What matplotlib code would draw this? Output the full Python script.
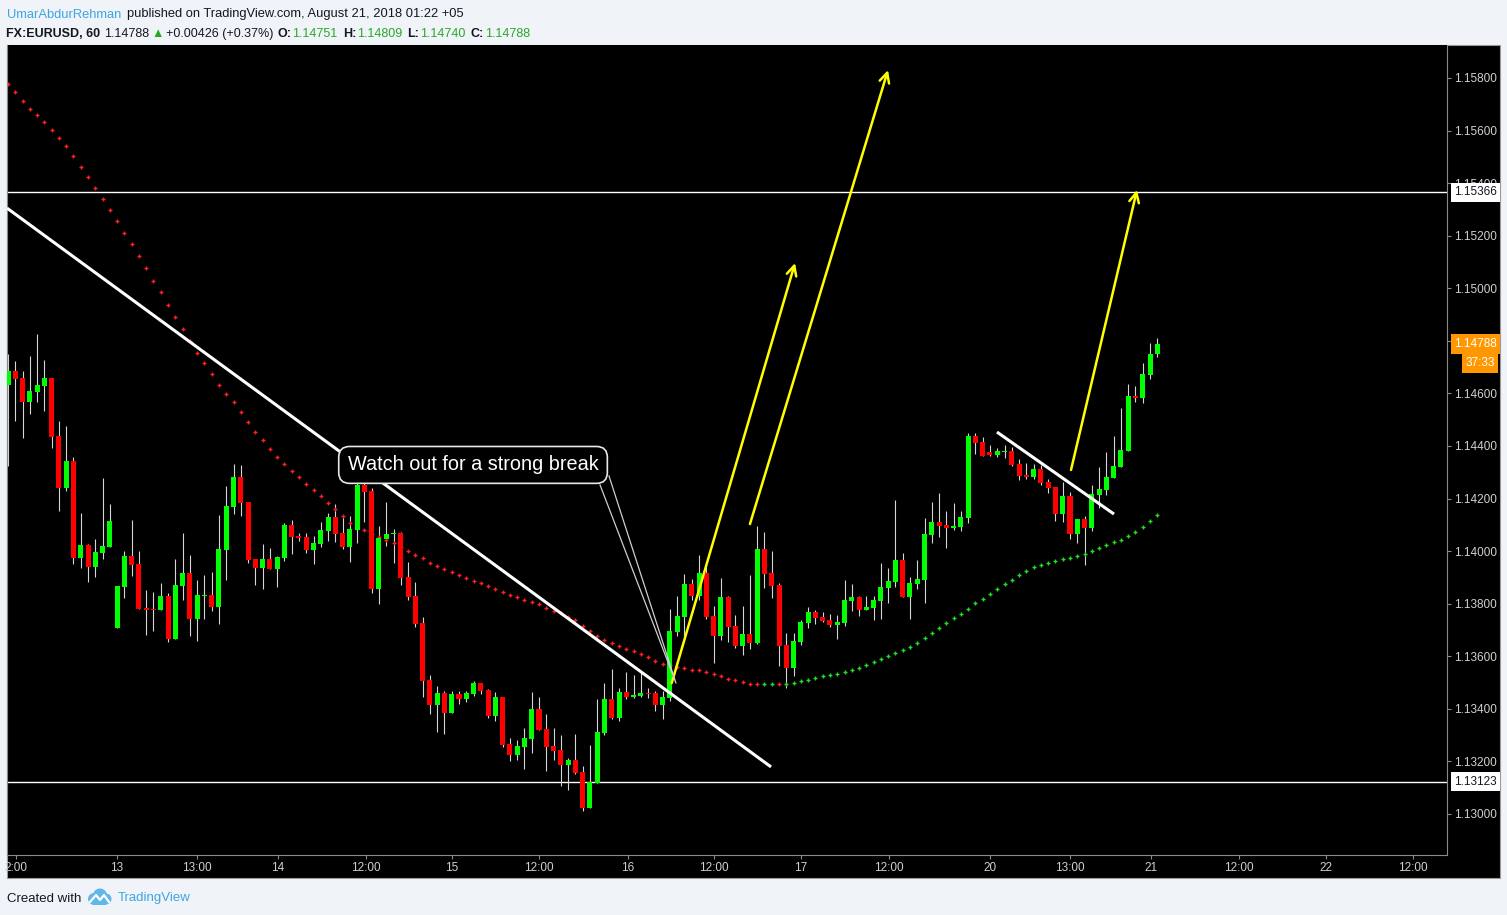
import numpy as np
import matplotlib
matplotlib.use("Agg")
import matplotlib.pyplot as plt
from matplotlib.patches import Rectangle, Circle

plt.rcParams['font.family'] = ['Liberation Sans', 'DejaVu Sans']

# ---------------- DATA ----------------
opens = [1.14632, 1.14685, 1.14659, 1.14567, 1.14605, 1.14628, 1.14659, 1.14438, 1.14240, 1.14343,
         1.13974, 1.14023, 1.13940, 1.13993, 1.14016, 1.13708, 1.13864, 1.13982, 1.13951, 1.13784,
         1.13780, 1.13776, 1.13829, 1.13666, 1.13867, 1.13917, 1.13742, 1.13829, 1.13833, 1.13788,
         1.14004, 1.14168, 1.14282, 1.14187, 1.13970, 1.13936, 1.13970, 1.13932, 1.13974, 1.14099,
         1.14058, 1.14054, 1.14004, 1.14027, 1.14077, 1.14130, 1.14069, 1.14016, 1.14080, 1.14252,
         1.14229, 1.13856, 1.14046, 1.14065, 1.14069, 1.13902, 1.13829, 1.13727, 1.13510, 1.13415,
         1.13460, 1.13384, 1.13456, 1.13437, 1.13456, 1.13498, 1.13472, 1.13373, 1.13445, 1.13266,
         1.13224, 1.13255, 1.13285, 1.13399, 1.13323, 1.13259, 1.13243, 1.13186, 1.13205, 1.13160,
         1.13023, 1.13118, 1.13308, 1.13437, 1.13365, 1.13464, 1.13445, 1.13449, 1.13460, 1.13460,
         1.13415, 1.13441, 1.13692, 1.13749, 1.13875, 1.13829, 1.13917, 1.13753, 1.13677, 1.13825,
         1.13715, 1.13639, 1.13685, 1.13651, 1.14008, 1.13917, 1.13871, 1.13643, 1.13555, 1.13654,
         1.13727, 1.13768, 1.13749, 1.13738, 1.13719, 1.13727, 1.13810, 1.13825, 1.13776, 1.13784,
         1.13810, 1.13860, 1.13883, 1.13966, 1.13825, 1.13875, 1.13890, 1.14061, 1.14111, 1.14099,
         1.14088, 1.14092, 1.14126, 1.14438, 1.14415, 1.14377, 1.14366, 1.14377, 1.14381, 1.14332,
         1.14290, 1.14282, 1.14313, 1.14263, 1.14244, 1.14141, 1.14210, 1.14065, 1.14122, 1.14088,
         1.14214, 1.14233, 1.14278, 1.14320, 1.14381, 1.14590, 1.14583, 1.14670, 1.14751]

highs = [1.14750, 1.14723, 1.14685, 1.14742, 1.14826, 1.14727, 1.14659, 1.14495, 1.14476, 1.14358,
         1.14145, 1.14027, 1.14046, 1.14278, 1.14179, 1.13867, 1.14001, 1.14119, 1.14001, 1.13852,
         1.13845, 1.13879, 1.13841, 1.13970, 1.14069, 1.13985, 1.13890, 1.13909, 1.13921, 1.14137,
         1.14248, 1.14332, 1.14328, 1.14187, 1.13970, 1.14027, 1.14012, 1.13982, 1.14107, 1.14119,
         1.14069, 1.14069, 1.14058, 1.14111, 1.14145, 1.14179, 1.14134, 1.14134, 1.14290, 1.14282,
         1.14240, 1.14096, 1.14187, 1.14084, 1.14073, 1.13959, 1.13883, 1.13749, 1.13529, 1.13487,
         1.13468, 1.13468, 1.13468, 1.13468, 1.13506, 1.13498, 1.13476, 1.13464, 1.13445, 1.13289,
         1.13281, 1.13327, 1.13464, 1.13445, 1.13380, 1.13327, 1.13300, 1.13213, 1.13304, 1.13183,
         1.13262, 1.13437, 1.13498, 1.13552, 1.13479, 1.13540, 1.13529, 1.13540, 1.13479, 1.13468,
         1.13468, 1.13780, 1.13829, 1.13913, 1.13894, 1.13985, 1.13959, 1.13791, 1.13898, 1.13829,
         1.13757, 1.13791, 1.13909, 1.14096, 1.14073, 1.14001, 1.13879, 1.13689, 1.13689, 1.13738,
         1.13788, 1.13776, 1.13768, 1.13761, 1.13757, 1.13890, 1.13875, 1.13829, 1.13829, 1.13829,
         1.13955, 1.13936, 1.14195, 1.13993, 1.13902, 1.13966, 1.14126, 1.14187, 1.14221, 1.14153,
         1.14183, 1.14153, 1.14449, 1.14449, 1.14434, 1.14404, 1.14392, 1.14404, 1.14396, 1.14350,
         1.14335, 1.14332, 1.14328, 1.14274, 1.14244, 1.14263, 1.14225, 1.14122, 1.14134, 1.14252,
         1.14320, 1.14377, 1.14438, 1.14544, 1.14636, 1.14628, 1.14716, 1.14792, 1.14809]

lows = [1.14324, 1.14495, 1.14430, 1.14522, 1.14567, 1.14533, 1.14392, 1.14153, 1.14229, 1.13951,
        1.13936, 1.13883, 1.13902, 1.13970, 1.14016, 1.13708, 1.13822, 1.13905, 1.13780, 1.13681,
        1.13696, 1.13776, 1.13654, 1.13666, 1.13814, 1.13677, 1.13658, 1.13742, 1.13772, 1.13723,
        1.13890, 1.14141, 1.14134, 1.13955, 1.13871, 1.13856, 1.13932, 1.13864, 1.13962, 1.13989,
        1.14039, 1.13993, 1.13951, 1.14016, 1.14039, 1.14035, 1.14008, 1.13959, 1.14031, 1.14111,
        1.13841, 1.13799, 1.14020, 1.13955, 1.13871, 1.13814, 1.13711, 1.13445, 1.13380, 1.13312,
        1.13304, 1.13384, 1.13418, 1.13426, 1.13449, 1.13456, 1.13365, 1.13354, 1.13255, 1.13202,
        1.13205, 1.13171, 1.13232, 1.13320, 1.13164, 1.13205, 1.13106, 1.13091, 1.13152, 1.13011,
        1.13023, 1.13118, 1.13301, 1.13361, 1.13354, 1.13437, 1.13441, 1.13445, 1.13441, 1.13392,
        1.13361, 1.13430, 1.13677, 1.13677, 1.13814, 1.13814, 1.13742, 1.13574, 1.13662, 1.13654,
        1.13632, 1.13605, 1.13628, 1.13647, 1.13860, 1.13822, 1.13563, 1.13479, 1.13525, 1.13643,
        1.13708, 1.13723, 1.13730, 1.13711, 1.13666, 1.13715, 1.13772, 1.13753, 1.13776, 1.13738,
        1.13742, 1.13803, 1.13864, 1.13825, 1.13742, 1.13856, 1.13803, 1.14031, 1.14054, 1.14012,
        1.14080, 1.14077, 1.14107, 1.14369, 1.14362, 1.14362, 1.14358, 1.14354, 1.14324, 1.14271,
        1.14274, 1.14274, 1.14252, 1.14221, 1.14115, 1.14111, 1.14046, 1.14031, 1.13947, 1.14077,
        1.14164, 1.14214, 1.14278, 1.14320, 1.14381, 1.14567, 1.14564, 1.14655, 1.14740]

closes = [1.14685, 1.14655, 1.14567, 1.14609, 1.14632, 1.14659, 1.14434, 1.14240, 1.14343, 1.13974,
          1.14023, 1.13940, 1.13997, 1.14020, 1.14115, 1.13867, 1.13982, 1.13947, 1.13780, 1.13776,
          1.13776, 1.13829, 1.13666, 1.13871, 1.13917, 1.13742, 1.13833, 1.13833, 1.13788, 1.14008,
          1.14172, 1.14282, 1.14183, 1.13966, 1.13936, 1.13970, 1.13932, 1.13978, 1.14099, 1.14054,
          1.14050, 1.14004, 1.14031, 1.14080, 1.14130, 1.14065, 1.14016, 1.14084, 1.14252, 1.14225,
          1.13856, 1.14050, 1.14065, 1.14069, 1.13898, 1.13825, 1.13723, 1.13506, 1.13415, 1.13460,
          1.13384, 1.13456, 1.13437, 1.13460, 1.13498, 1.13468, 1.13373, 1.13445, 1.13262, 1.13224,
          1.13259, 1.13289, 1.13400, 1.13320, 1.13255, 1.13240, 1.13186, 1.13205, 1.13156, 1.13023,
          1.13122, 1.13312, 1.13437, 1.13365, 1.13464, 1.13445, 1.13453, 1.13460, 1.13456, 1.13415,
          1.13445, 1.13696, 1.13753, 1.13875, 1.13829, 1.13917, 1.13749, 1.13677, 1.13825, 1.13711,
          1.13639, 1.13685, 1.13651, 1.14008, 1.13913, 1.13867, 1.13639, 1.13555, 1.13658, 1.13730,
          1.13768, 1.13746, 1.13734, 1.13719, 1.13730, 1.13814, 1.13825, 1.13776, 1.13788, 1.13814,
          1.13864, 1.13886, 1.13966, 1.13825, 1.13879, 1.13894, 1.14065, 1.14111, 1.14096, 1.14088,
          1.14096, 1.14130, 1.14438, 1.14411, 1.14362, 1.14366, 1.14381, 1.14381, 1.14328, 1.14286,
          1.14282, 1.14313, 1.14259, 1.14240, 1.14141, 1.14210, 1.14065, 1.14122, 1.14088, 1.14217,
          1.14236, 1.14282, 1.14324, 1.14385, 1.14590, 1.14583, 1.14674, 1.14751, 1.14788]

ma_values = [1.15776, 1.15746, 1.15711, 1.15681, 1.15658, 1.15631, 1.15601, 1.15571, 1.15540, 1.15502,
             1.15460, 1.15422, 1.15380, 1.15338, 1.15297, 1.15255, 1.15209, 1.15167, 1.15122, 1.15076,
             1.15026, 1.14985, 1.14935, 1.14890, 1.14844, 1.14798, 1.14753, 1.14715, 1.14673, 1.14631,
             1.14597, 1.14566, 1.14528, 1.14490, 1.14452, 1.14422, 1.14387, 1.14357, 1.14330, 1.14304,
             1.14281, 1.14254, 1.14232, 1.14209, 1.14182, 1.14159, 1.14133, 1.14106, 1.14091, 1.14079,
             1.14065, 1.14053, 1.14042, 1.14030, 1.14016, 1.13999, 1.13984, 1.13973, 1.13954, 1.13942,
             1.13931, 1.13919, 1.13908, 1.13897, 1.13885, 1.13878, 1.13866, 1.13855, 1.13843, 1.13832,
             1.13824, 1.13813, 1.13805, 1.13798, 1.13782, 1.13771, 1.13764, 1.13748, 1.13737, 1.13714,
             1.13695, 1.13676, 1.13661, 1.13649, 1.13638, 1.13627, 1.13619, 1.13607, 1.13596, 1.13581,
             1.13570, 1.13566, 1.13558, 1.13554, 1.13547, 1.13547, 1.13539, 1.13532, 1.13524, 1.13512,
             1.13509, 1.13501, 1.13493, 1.13493, 1.13494, 1.13495, 1.13494, 1.13495, 1.13497, 1.13505,
             1.13509, 1.13516, 1.13524, 1.13528, 1.13532, 1.13539, 1.13547, 1.13554, 1.13566, 1.13577,
             1.13588, 1.13600, 1.13611, 1.13623, 1.13634, 1.13650, 1.13670, 1.13689, 1.13708, 1.13727,
             1.13744, 1.13760, 1.13779, 1.13802, 1.13817, 1.13836, 1.13855, 1.13874, 1.13889, 1.13908,
             1.13923, 1.13938, 1.13946, 1.13954, 1.13961, 1.13969, 1.13973, 1.13980, 1.13988, 1.13999,
             1.14011, 1.14022, 1.14034, 1.14041, 1.14057, 1.14072, 1.14091, 1.14114, 1.14136]

tick_pos = [1.04, 14.98, 26.02, 37.08, 49.16, 61.04, 73.0, 85.19, 97.06, 109.0,
            121.1, 135.0, 146.0, 157.1, 169.2, 181.2, 193.2]
tick_labels = ["2:00", "13", "13:00", "14", "12:00", "15", "12:00", "16", "12:00", "17",
               "12:00", "20", "13:00", "21", "12:00", "22", "12:00"]

price_ticks = [1.130, 1.132, 1.134, 1.136, 1.138, 1.140, 1.142, 1.144,
               1.146, 1.148, 1.150, 1.152, 1.154, 1.156, 1.158]

levels = [1.15366, 1.13123]
trend_main = [(-0.14, 1.15305), (104.9, 1.13179)]
trend_small = [(135.96, 1.14453), (152.05, 1.14141)]
arrows = [((91.24, 1.13498), (108.2, 1.15096)),
          ((102.0, 1.14103), (120.98, 1.15830)),
          ((146.14, 1.14309), (155.21, 1.15374))]
callout_text = "Watch out for a strong break"
callout_center = (63.93, 1.14328)
callout_tip = (91.83, 1.13498)
callout_base = [(81.39, 1.14252), (82.62, 1.14286)]
countdown = "37:33"

header1_user = "UmarAbdurRehman"
header1_rest = "published on TradingView.com, August 21, 2018 01:22 +05"
change_text = "+0.00426 (+0.37%)"

# ---------------- FIGURE ----------------
W, H = 1507, 915
fig = plt.figure(figsize=(W / 100, H / 100), dpi=100)
fig.patch.set_facecolor('#f0f3f7')


def fx(px):
    return px / W


def fy(py):
    return 1 - py / H


fig.add_artist(Rectangle((fx(7), fy(878)), fx(1500) - fx(7), fy(45) - fy(878),
                         transform=fig.transFigure, facecolor='black',
                         edgecolor='#9a9a9a', lw=0.8, zorder=-5))

ax = fig.add_axes([fx(7), fy(855), fx(1447) - fx(7), fy(45) - fy(855)])
ax.set_facecolor('black')
ax.set_xlim(-0.14, 197.83)
ax.set_ylim(1.12844, 1.159255)
ax.spines['top'].set_visible(False)
for s in ['left', 'bottom', 'right']:
    ax.spines[s].set_color('#8a8a8a')
    ax.spines[s].set_linewidth(0.8)

x = np.arange(len(opens))
o = np.array(opens)
h = np.array(highs)
l = np.array(lows)
c = np.array(closes)
up = c >= o
cols = np.where(up, '#00ff00', '#ff0000')

ax.vlines(x, l, h, color='#d6d6d6', lw=0.8, zorder=2)
body = np.maximum(np.abs(c - o), 0.00004)
ax.bar(x, body, bottom=np.minimum(o, c), width=0.69, color=cols, linewidth=0, zorder=3)

ma = np.array(ma_values)
rising = np.r_[False, np.diff(ma) > 0]
ax.scatter(x[~rising], ma[~rising], marker='+', s=9, c='#ff2020', linewidths=1, zorder=2.5)
ax.scatter(x[rising], ma[rising], marker='+', s=9, c='#22dd22', linewidths=1, zorder=2.5)

for lv in levels:
    ax.axhline(lv, color='white', lw=1, zorder=1.5)

for seg in (trend_main, trend_small):
    ax.plot([seg[0][0], seg[1][0]], [seg[0][1], seg[1][1]], color='white', lw=2.2,
            solid_capstyle='butt', zorder=4)

for start, end in arrows:
    ax.annotate('', xy=end, xytext=start,
                arrowprops=dict(arrowstyle='->,head_length=0.7,head_width=0.35',
                                color='#ffff00', lw=1.8, shrinkA=0, shrinkB=0),
                zorder=5)

ax.plot([callout_base[0][0], callout_tip[0], callout_base[1][0]],
        [callout_base[0][1], callout_tip[1], callout_base[1][1]],
        color='#cfcfcf', lw=0.9, zorder=5)
ax.text(callout_center[0], callout_center[1], callout_text, color='white', fontsize=14.3,
        ha='center', va='center', zorder=6,
        bbox=dict(boxstyle='round,pad=0.45,rounding_size=0.55', fc='black', ec='#e8e8e8', lw=1.2))

# axes ticks
ax.yaxis.tick_right()
ax.set_yticks(price_ticks)
ax.set_yticklabels([f'{p:.5f}' for p in price_ticks])
ax.tick_params(axis='y', length=3, width=0.8, color='#8a8a8a', pad=2,
               labelsize=8.5, labelcolor='#d0d0d0')
ax.set_xticks(tick_pos)
ax.set_xticklabels(tick_labels)
ax.tick_params(axis='x', length=3, width=0.8, color='#8a8a8a', pad=2,
               labelsize=8.5, labelcolor='#d0d0d0')

ytr = ax.get_yaxis_transform()
for lv in levels:
    ax.text(1.0049, lv, f'{lv:.5f}', transform=ytr, ha='left', va='center', fontsize=8.5,
            color='#131722', clip_on=False, zorder=10,
            bbox=dict(boxstyle='square,pad=0.3', fc='white', ec='none'))
last = closes[-1]
ax.text(1.0049, last, f'{last:.5f}', transform=ytr, ha='left', va='center', fontsize=8.5,
        color='white', clip_on=False, zorder=10,
        bbox=dict(boxstyle='square,pad=0.3', fc='#ff9800', ec='none'))
ax.annotate(countdown, xy=(1.0330, last), xycoords=ytr, xytext=(0, -13.7),
            textcoords='offset points', ha='right', va='center', fontsize=8.5,
            color='white', annotation_clip=False, zorder=10,
            bbox=dict(boxstyle='square,pad=0.3', fc='#ff9800', ec='none'))

# header
blue = '#3fa6e0'
dark = '#131722'
green = '#28a828'
fig.text(fx(6.5), fy(17.5), header1_user, color=blue, fontsize=9.3, va='baseline')
fig.text(fx(127), fy(17.5), header1_rest, color=dark, fontsize=9.3, va='baseline')

line2 = [(6.5, "FX:EURUSD, 60", dark, 'bold', 3),
         (99, f"{closes[-1]:.5f}", dark, 'normal', 3),
         (148, "\u25B2", green, 'normal', 2),
         (162.5, change_text, dark, 'normal', 4),
         (272, "O:", dark, 'bold', 1),
         (287, f"{opens[-1]:.5f}", green, 'normal', 5),
         (336, "H:", dark, 'bold', 1),
         (350, f"{highs[-1]:.5f}", green, 'normal', 5),
         (399, "L:", dark, 'bold', 1),
         (411, f"{lows[-1]:.5f}", green, 'normal', 5),
         (461, "C:", dark, 'bold', 1),
         (473, f"{closes[-1]:.5f}", green, 'normal', 0)]
renderer = fig.canvas.get_renderer()
cursor = 0
for px, txt, col, wt, gap in line2:
    xpos = max(px, cursor)
    t = fig.text(fx(xpos), fy(37), txt, color=col, fontsize=9.0, fontweight=wt,
                 va='baseline', family=['Liberation Sans', 'DejaVu Sans'])
    bb = t.get_window_extent(renderer)
    cursor = bb.x1 + gap

# footer
fig.text(fx(7), fy(901.5), "Created with", color=dark, fontsize=9.5, va='baseline')
fig.text(fx(118), fy(901.5), "TradingView", color=blue, fontsize=9.5, va='baseline')
lax = fig.add_axes([fx(87), fy(906), fx(112) - fx(87), fy(887) - fy(906)])
lax.set_xlim(0, 25)
lax.set_ylim(0, 19)
lax.set_aspect('equal')
lax.axis('off')
for cx_, cy_, r_ in [(7, 7, 6), (13, 10.5, 7), (19, 7, 5.5)]:
    lax.add_patch(Circle((cx_, cy_), r_, color='#5fb7ea', lw=0))
lax.add_patch(Rectangle((7, 1), 12, 6, color='#5fb7ea', lw=0))
lax.plot([3, 9, 13, 17, 22], [4, 11, 6, 11, 4], color='white', lw=1.6)

fig.savefig('out.png', dpi=100, facecolor=fig.get_facecolor())
